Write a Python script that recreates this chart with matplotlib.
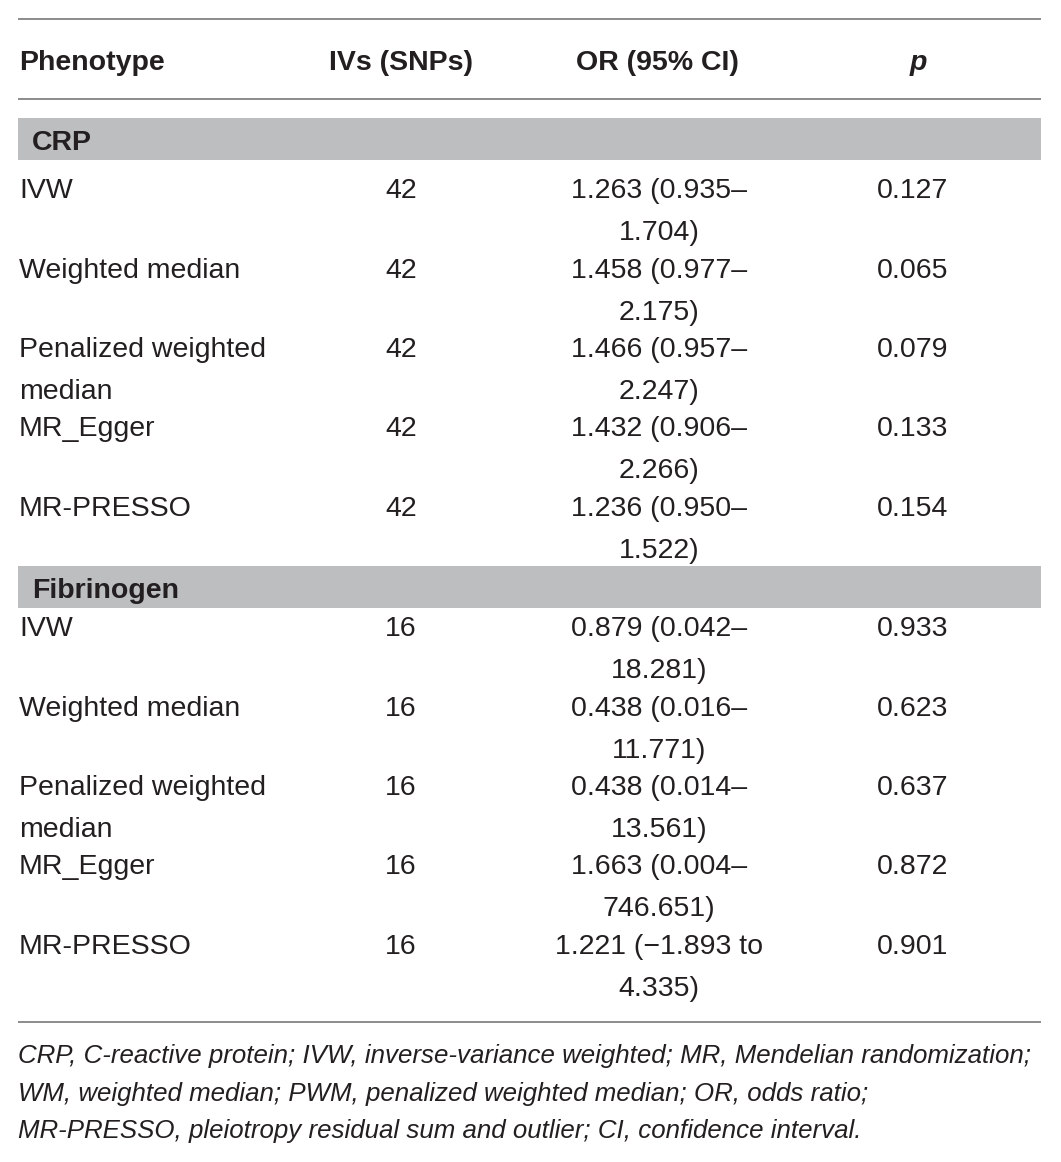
import matplotlib.pyplot as plt
from matplotlib.patches import Rectangle

# table data
groups = ["CRP", "Fibrinogen"]
methods = ["IVW", "Weighted median", "Penalized weighted\nmedian", "MR_Egger", "MR-PRESSO"]
ivs = [[42, 42, 42, 42, 42], [16, 16, 16, 16, 16]]
or_est = [[1.263, 1.458, 1.466, 1.432, 1.236], [0.879, 0.438, 0.438, 1.663, 1.221]]
ci_lo = [[0.935, 0.977, 0.957, 0.906, 0.950], [0.042, 0.016, 0.014, 0.004, -1.893]]
ci_hi = [[1.704, 2.175, 2.247, 2.266, 1.522], [18.281, 11.771, 13.561, 746.651, 4.335]]
pvals = [[0.127, 0.065, 0.079, 0.133, 0.154], [0.933, 0.623, 0.637, 0.872, 0.901]]
headers = ["Phenotype", "IVs (SNPs)", "OR (95% CI)", "p"]
footnote = ["CRP, C-reactive protein; IVW, inverse-variance weighted; MR, Mendelian randomization;",
            "WM, weighted median; PWM, penalized weighted median; OR, odds ratio;",
            "MR-PRESSO, pleiotropy residual sum and outlier; CI, confidence interval."]


def fmt_or(est, lo, hi):
    if lo < 0:
        return "%.3f (\u2212%.3f to\n%.3f)" % (est, -lo, hi)
    return "%.3f (%.3f\u2013\n%.3f)" % (est, lo, hi)


W, H = 1061, 1162
fig = plt.figure(figsize=(W / 100, H / 100), dpi=100)
ax = fig.add_axes([0, 0, 1, 1])
ax.set_xlim(0, W)
ax.set_ylim(H, 0)
ax.axis('off')

font = 'Liberation Sans'
tc = '#231f20'
rule = '#8c8c8c'
band = '#bcbec0'
fs = 20.5
line_gap = 42

x0, x1 = 18, 1041
col_x = [19, 401, 659, 913]


def cell(x, y, s, ha, **kw):
    # multi-line cell, one text per line so the line gap is exact
    for k, part in enumerate(s.split("\n")):
        ax.text(x, y + k * line_gap, part, ha=ha, va='baseline', fontsize=fs,
                family=font, color=tc, **kw)


for yr in [19, 99, 1022]:
    ax.plot([x0, x1], [yr, yr], color=rule, lw=1.4, solid_capstyle='butt')

cell(col_x[0], 70, headers[0], 'left', fontweight='bold')
cell(col_x[1], 70, headers[1], 'center', fontweight='bold')
cell(col_x[2] - 2, 70, headers[2], 'center', fontweight='bold')
cell(918, 70, headers[3], 'center', fontweight='bold', style='italic')

band_top = [118, 566]
first_base = [198, 636]
row_step = 79.5
for g, name in enumerate(groups):
    bt = band_top[g]
    ax.add_patch(Rectangle((x0, bt), x1 - x0, 42, facecolor=band, edgecolor='none'))
    cell(32, bt + 32, name, 'left', fontweight='bold')
    for i, m in enumerate(methods):
        y = first_base[g] + i * row_step
        cell(col_x[0], y, m, 'left')
        cell(col_x[1], y, str(ivs[g][i]), 'center')
        cell(col_x[2], y, fmt_or(or_est[g][i], ci_lo[g][i], ci_hi[g][i]), 'center')
        cell(col_x[3], y, "%.3f" % pvals[g][i], 'center')

for k, line in enumerate(footnote):
    ax.text(x0, 1063 + k * 37.5, line, ha='left', va='baseline', fontsize=18.6,
            style='italic', family=font, color=tc)

fig.savefig('out.png', dpi=100, facecolor='white')
